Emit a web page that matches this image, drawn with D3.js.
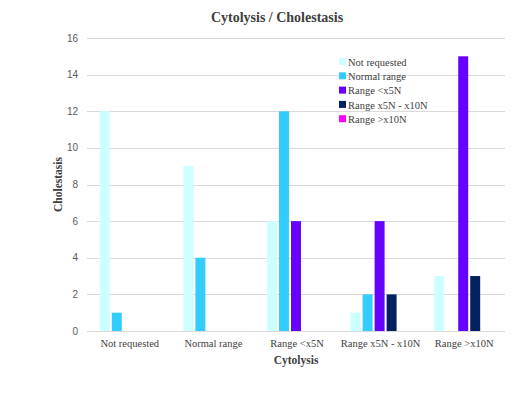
<!DOCTYPE html>
<html>
<head>
<meta charset="utf-8">
<title>Cytolysis / Cholestasis</title>
<style>
  body { margin: 0; background: #fff; }
  .grid line { stroke: #d9d9d9; }
  .ytick text { font-family: "Liberation Sans", Arial, sans-serif; font-size: 10px; fill: #595959; }
  .xtick text { font-family: "Liberation Serif", "Times New Roman", serif; font-size: 10.5px; fill: #404040; }
  .title { font-family: "Liberation Serif", serif; font-weight: bold; font-size: 14px; fill: #404040; }
  .axis-label { font-family: "Liberation Serif", serif; font-weight: bold; font-size: 11.5px; fill: #404040; }
  .legend text { font-family: "Liberation Serif", serif; font-size: 10.5px; fill: #404040; }
</style>
</head>
<body>
<script src="https://d3js.org/d3.v7.min.js"></script>
<script>
const categories = ["Not requested", "Normal range", "Range <x5N", "Range x5N - x10N", "Range >x10N"];
const seriesNames = ["Not requested", "Normal range", "Range <x5N", "Range x5N - x10N", "Range >x10N"];
const colors = ["#ccffff", "#33ccff", "#6600ff", "#002060", "#ff00ff"];
const notRequested = [12, 9, 6, 1, 3];
const normalRange = [1, 4, 12, 2, 0];
const rangeLt5 = [0, 0, 6, 6, 15];
const range5to10 = [0, 0, 0, 2, 3];
const rangeGt10 = [0, 0, 0, 0, 0];
const yTicks = [0, 2, 4, 6, 8, 10, 12, 14, 16];

const series = [notRequested, normalRange, rangeLt5, range5to10, rangeGt10];

const width = 528, height = 393;
const plotLeft = 87, plotRight = 505, plotTop = 38, plotBottom = 331;

const svg = d3.select("body").append("svg")
    .attr("width", width)
    .attr("height", height);

const y = d3.scaleLinear().domain([0, 16]).range([plotBottom, plotTop]);
const x0 = d3.scaleBand().domain(categories).range([plotLeft, plotRight]);
const x1 = d3.scaleBand().domain(d3.range(series.length))
    .range([0, 58]).paddingInner(0.17);

// gridlines + y labels
const yg = svg.append("g").attr("class", "grid");
yg.selectAll("line").data(yTicks).join("line")
    .attr("x1", plotLeft).attr("x2", plotRight)
    .attr("y1", d => Math.round(y(d)) + 0.5)
    .attr("y2", d => Math.round(y(d)) + 0.5);

svg.append("g").attr("class", "ytick")
  .selectAll("text").data(yTicks).join("text")
    .attr("x", plotLeft - 9)
    .attr("y", d => y(d))
    .attr("dy", "0.35em")
    .attr("text-anchor", "end")
    .text(d => d);

// bars
categories.forEach((cat, ci) => {
    const g = svg.append("g")
        .attr("transform", `translate(${x0(cat) + x0.bandwidth() / 2 - 29},0)`);
    g.selectAll("rect")
        .data(series.map((s, si) => ({ si, v: s[ci] })).filter(d => d.v > 0))
        .join("rect")
        .attr("x", d => x1(d.si))
        .attr("width", x1.bandwidth())
        .attr("y", d => y(d.v))
        .attr("height", d => y(0) - y(d.v))
        .attr("fill", d => colors[d.si]);
});

// x axis line
svg.append("line")
    .attr("x1", plotLeft).attr("x2", plotRight)
    .attr("y1", plotBottom + 0.5).attr("y2", plotBottom + 0.5)
    .attr("stroke", "#d9d9d9");

svg.append("g").attr("class", "xtick")
  .selectAll("text").data(categories).join("text")
    .attr("x", d => x0(d) + x0.bandwidth() / 2 + 1)
    .attr("y", plotBottom + 16)
    .attr("text-anchor", "middle")
    .text(d => d);

// titles
svg.append("text").attr("class", "title")
    .attr("x", 277).attr("y", 22)
    .attr("text-anchor", "middle")
    .text("Cytolysis / Cholestasis");

svg.append("text").attr("class", "axis-label")
    .attr("x", 296).attr("y", 364)
    .attr("text-anchor", "middle")
    .text("Cytolysis");

svg.append("text").attr("class", "axis-label")
    .attr("transform", `translate(62,${(plotTop + plotBottom) / 2}) rotate(-90)`)
    .attr("text-anchor", "middle")
    .text("Cholestasis");

// legend
const legend = svg.append("g").attr("class", "legend")
    .attr("transform", "translate(339,58)");
const item = legend.selectAll("g").data(seriesNames).join("g")
    .attr("transform", (d, i) => `translate(0,${i * 14.3})`);
item.append("rect")
    .attr("width", 7).attr("height", 7)
    .attr("y", 0)
    .attr("fill", (d, i) => colors[i]);
item.append("text")
    .attr("x", 9).attr("y", 4)
    .attr("dy", "0.35em")
    .text(d => d);
</script>
</body>
</html>
